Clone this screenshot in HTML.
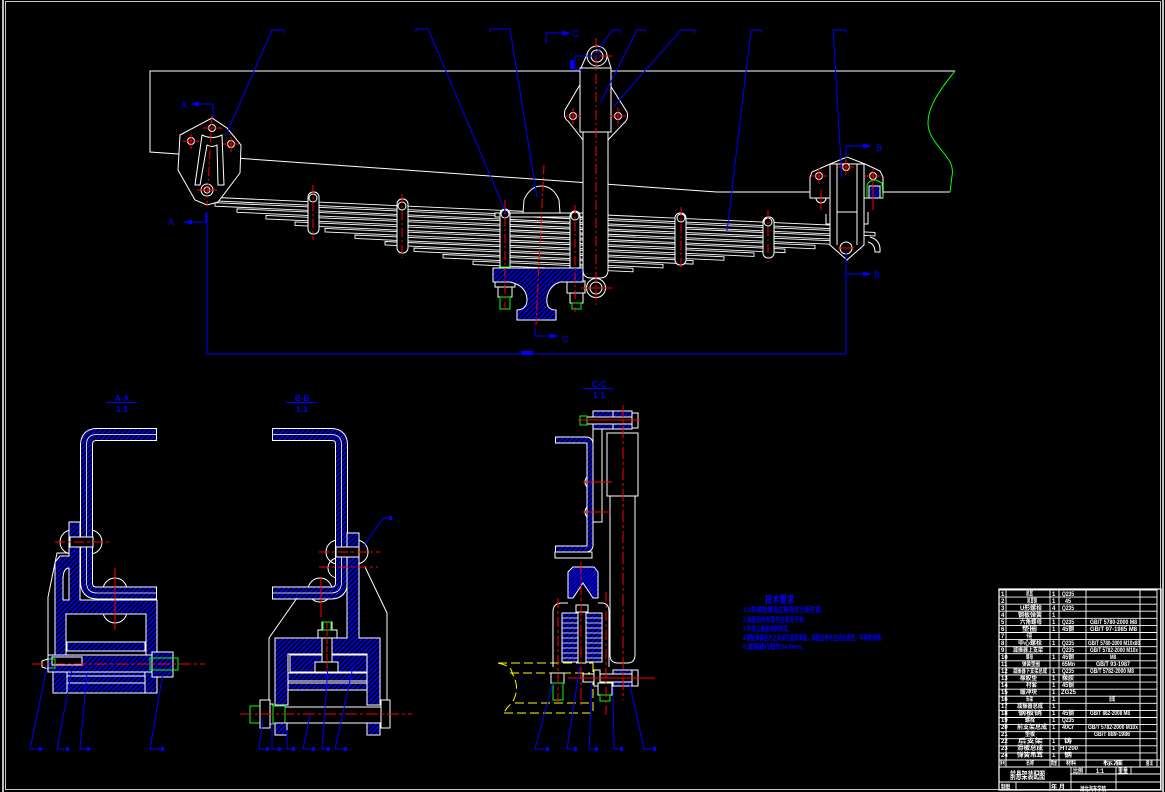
<!DOCTYPE html>
<html><head><meta charset="utf-8"><style>html,body{margin:0;padding:0;background:#000;}svg{display:block}</style></head><body>
<svg width="1165" height="792" viewBox="0 0 1165 792" xmlns="http://www.w3.org/2000/svg" font-family="'Liberation Sans','Noto Sans CJK SC',sans-serif">
<defs>
<pattern id="h" width="3.5" height="3.5" patternUnits="userSpaceOnUse" patternTransform="rotate(45)"><rect width="3.5" height="3.5" fill="#000"/><rect width="1.6" height="3.5" fill="#0000ff"/></pattern>
<pattern id="hx" width="3" height="3" patternUnits="userSpaceOnUse" patternTransform="rotate(45)"><rect width="3" height="3" fill="#0000ee"/><rect width="1" height="3" fill="#000"/></pattern>
</defs>
<rect width="1165" height="792" fill="#000"/>
<!-- drawing frame -->
<rect x="5.5" y="1.5" width="1155" height="788" fill="none" stroke="#c8c8c8"/>
<line x1="3" y1="0" x2="3" y2="792" stroke="#fff" stroke-width="1.5"/>
<line x1="1163" y1="0" x2="1163" y2="792" stroke="#fff" stroke-width="1.5"/>

<!-- ================= MAIN VIEW ================= -->
<polyline points="955,71 150,71 150,152 717,192 950,192" fill="none" stroke="#fff"/>
<path d="M955,71 C938,92 924,112 929,130 C934,148 956,158 952,176 L950,192" fill="none" stroke="#00ff00"/>

<!-- leaves -->
<g fill="#000" stroke="#fff" stroke-width="0.9">
<path d="M205,197 L830,225.1 L830,228.6 L205,200.5 Z"/>
<path d="M215,202.7 L875,232.4 L875,235.9 L215,206.2 Z"/>
<path d="M237,208.8 L845,236.2 L845,239.7 L237,212.3 Z"/>
<path d="M266,215.4 L830,240.7 L830,244.2 L266,218.9 Z"/>
<path d="M295,221.9 L815,245.3 L815,248.8 L295,225.4 Z"/>
<path d="M325,228.4 L785,249.1 L785,252.6 L325,231.9 Z"/>
<path d="M355,235 L754,252.9 L754,256.4 L355,238.5 Z"/>
<path d="M385,241.5 L724,256.8 L724,260.3 L385,245 Z"/>
<path d="M414,248 L693,260.6 L693,264.1 L414,251.5 Z"/>
<path d="M443,254.5 L663,264.4 L663,267.9 L443,258 Z"/>
<path d="M473,261.1 L633,268.3 L633,271.8 L473,264.6 Z"/>
</g>

<!-- front hanger -->
<polygon points="180,135 212,118 227,128 241,145 240,173 218,202 207,205 195,200 178,170" fill="#000" stroke="#fff"/>
<path d="M195,185 L202,135 Q212,140 222,135 L224,185 L218,185 L217,145 Q212,148 207,145 L200,185 Z" fill="none" stroke="#fff"/>
<circle cx="207" cy="190" r="6" fill="#000" stroke="#fff"/>
<circle cx="207" cy="190" r="3" fill="none" stroke="#fff"/>
<g fill="none" stroke="#fff"><circle cx="212" cy="128" r="3.5"/><circle cx="191" cy="141" r="3.5"/><circle cx="231" cy="144" r="3.5"/></g>
<g stroke="#ff0000" stroke-width="1">
<line x1="212" y1="116" x2="207" y2="206" stroke-dasharray="9 3 2 3"/>
<line x1="203" y1="128" x2="222" y2="128"/><line x1="183" y1="141" x2="199" y2="141"/><line x1="191" y1="134" x2="191" y2="149"/>
<line x1="223" y1="144" x2="239" y2="144"/><line x1="231" y1="137" x2="231" y2="152"/>
<line x1="197" y1="190" x2="217" y2="190"/>
</g>

<!-- clips and u-bolts -->
<g fill="#000" stroke="#fff">
<rect x="308" y="192" width="11" height="42" rx="5"/>
<rect x="397" y="199" width="11" height="54" rx="5"/>
<rect x="675" y="213" width="11" height="52" rx="5"/>
<rect x="763" y="217" width="11" height="41" rx="5"/>
<path d="M523,213 L524,200 C528,190 535,186 541,186 C550,186 556,192 559,200 L560,213 Z"/>
<rect x="495" y="213" width="88" height="4"/>
<rect x="500" y="209" width="10" height="66" rx="5"/>
<rect x="570" y="211" width="10" height="68" rx="5"/>
<rect x="495" y="275" width="20" height="12"/>
<rect x="567" y="281" width="18" height="12"/>
<rect x="498" y="287" width="14" height="10"/>
<rect x="570" y="293" width="13" height="10"/>
<circle cx="313" cy="198" r="4"/><circle cx="402" cy="206" r="4"/><circle cx="505" cy="214" r="4"/><circle cx="575" cy="216" r="4"/><circle cx="681" cy="218" r="4"/><circle cx="768" cy="222" r="4"/>
</g>
<g fill="none" stroke="#00ff00"><rect x="500" y="297" width="10" height="12"/><rect x="572" y="303" width="9" height="6"/><rect x="501" y="267" width="9" height="8"/></g>
<!-- axle seat -->
<path d="M493,268 L583,268 L583,282 L560,282 C550,285 546,295 547,303 C548,309 552,310 556,310 L556,320 L517,320 L517,310 C521,310 527,308 527,300 C527,290 520,284 510,282 L493,282 Z" fill="url(#h)" stroke="#fff"/>
<g stroke="#ff0000" stroke-dasharray="9 3 2 3">
<line x1="313" y1="185" x2="313" y2="240"/><line x1="402" y1="194" x2="402" y2="258"/>
<line x1="505" y1="200" x2="505" y2="310"/><line x1="575" y1="205" x2="575" y2="312"/>
<line x1="681" y1="207" x2="681" y2="270"/><line x1="768" y1="210" x2="768" y2="262"/>
<line x1="544" y1="165" x2="536" y2="325"/>
</g>

<!-- shock absorber -->
<g fill="none" stroke="#fff">
<path d="M581,83 L565,110 Q563,118 568,121 L583,140 M610,85 L627,112 Q629,119 624,123 L608,140"/>
<path d="M581,68 L588,52 M611,68 L606,52"/>
</g>
<g fill="#000" stroke="#fff">
<circle cx="597" cy="56" r="10"/><circle cx="597" cy="56" r="6"/>
<rect x="580" y="68" width="31" height="64"/>
<path d="M583,132 L583,270 Q583,278 591,278 L600,278 Q608,278 608,270 L608,132 Z"/>
<circle cx="596" cy="288" r="9.5"/><circle cx="596" cy="288" r="6"/>
<circle cx="573" cy="116" r="3.5"/><circle cx="618" cy="116" r="3.5"/>
</g>
<g stroke="#ff0000">
<line x1="596" y1="38" x2="596" y2="305" stroke-dasharray="10 3 2 3"/>
<line x1="584" y1="56" x2="612" y2="56"/><line x1="581" y1="288" x2="612" y2="288"/>
<line x1="565" y1="116" x2="581" y2="116"/><line x1="573" y1="108" x2="573" y2="124"/>
<line x1="610" y1="116" x2="626" y2="116"/><line x1="618" y1="108" x2="618" y2="124"/>
</g>

<!-- rear bracket -->
<g fill="#000" stroke="#fff">
<polygon points="810,198 810,177 812,172 830,164 847,157 865,164 880,171 883,177 883,198"/>
<polygon points="830,164 864,164 864,245 847,260 830,245"/>
<line x1="837" y1="164" x2="837" y2="245"/><line x1="857" y1="164" x2="857" y2="245"/>
<line x1="837" y1="212" x2="857" y2="212"/>
<path d="M826,214 L826,224 L830,224 M868,212 L868,224 L864,224" fill="none"/>
<path d="M870,237 Q881,240 880,252 L875,252 Q875,244 868,242" fill="none"/>
<circle cx="846" cy="248" r="6"/>
<circle cx="846" cy="167" r="3.5"/><circle cx="819" cy="176" r="3.5"/><circle cx="873" cy="176" r="3.5"/>
<path d="M816,198 A5,5 0 0 0 826,198" fill="none"/>
</g>
<rect x="869" y="186" width="11" height="12" fill="url(#h)" stroke="#fff"/>
<path d="M867,198 L867,185 Q869,180 876,180 L882,183 L883,198" fill="none" stroke="#00ff00"/>
<g stroke="#ff0000">
<line x1="838" y1="167" x2="854" y2="167"/><line x1="846" y1="159" x2="846" y2="175"/>
<line x1="811" y1="176" x2="827" y2="176"/><line x1="819" y1="168" x2="819" y2="184"/>
<line x1="865" y1="176" x2="881" y2="176"/><line x1="873" y1="168" x2="873" y2="210"/>
<line x1="821" y1="190" x2="821" y2="210"/>
<line x1="838" y1="248" x2="854" y2="248"/>
</g>

<!-- blue leaders & section marks (main) -->
<g stroke="#0000ff" fill="none">
<path d="M284,33 L284,30 L272,30 L226,135"/>
<path d="M416,32 L416,29 L428,29 L507,215"/>
<path d="M490,32 L490,29 L510,29 L537,197"/>
<path d="M620,33 L620,30 L612,30 L597,53"/>
<path d="M645,33 L645,30 L637,30 L600,103"/>
<path d="M695,33 L695,30 L681,30 L614,106"/>
<path d="M762,33 L762,30 L751,30 L727,231"/>
<path d="M846,33 L846,30 L833,30 L842,178"/>
<polyline points="213,117 213,104 196,104"/>
<polyline points="206,212 206,222 188,222"/>
<polyline points="846,158 846,146 866,146"/>
<polyline points="846,274 866,274"/>
<polyline points="546,43 546,33 566,33"/>
<polyline points="535,327 535,336 554,336"/>
<polyline points="207,213 207,354 846,354 846,252"/>
<path d="M600,56 L575,56 L575,70 L583,70"/>
</g>
<g fill="#0000ff">
<polygon points="190,104 199,101.5 199,106.5"/>
<polygon points="183,222 192,219.5 192,224.5"/>
<polygon points="872,146 863,143.5 863,148.5"/>
<polygon points="872,274 863,271.5 863,276.5"/>
<polygon points="571,33 562,30.5 562,35.5"/>
<polygon points="559,336 550,333.5 550,338.5"/>
<rect x="521" y="351" width="12" height="4"/>
<rect x="570" y="60" width="4" height="9"/>
</g>
<g fill="#0000ff" font-size="9">
<text x="181" y="108">A</text><text x="168" y="225">A</text>
<text x="876" y="151">B</text><text x="874" y="278">B</text>
<text x="572" y="37">C</text><text x="562" y="342">C</text>
</g>

<!-- ================= A-A ================= -->
<g fill="#0000ff" font-size="8" font-weight="bold" text-anchor="middle">
<text x="122" y="401">A-A</text><text x="122" y="412">1:1</text>
<text x="302" y="401">B-B</text><text x="302" y="412">1:1</text>
<text x="599" y="387">C-C</text><text x="599" y="398">1:1</text>
</g>
<g stroke="#0000ff"><line x1="106" y1="402.5" x2="137" y2="402.5"/><line x1="286" y1="402.5" x2="317" y2="402.5"/><line x1="583" y1="388.5" x2="613" y2="388.5"/></g>

<g fill="none" stroke="#fff">
<circle cx="72" cy="542" r="12"/><circle cx="90" cy="542" r="12"/>
<circle cx="115" cy="590" r="12"/><circle cx="115" cy="611" r="12"/>
</g>
<path d="M69,522 L80,522 L80,600 L157,600 L157,655 L146,655 L146,614 L66,614 L66,655 L55,655 L55,562 L60,556 L69,556 Z" fill="url(#h)" stroke="#fff"/>
<path d="M69,568 Q63,568 63,580 L63,600 L69,600 Z" fill="#000" stroke="#fff"/>
<path d="M157,434.5 L97,434.5 Q86.5,434.5 86.5,445 L86.5,582 Q86.5,593 97,593 L157,593" fill="none" stroke="#fff" stroke-width="13"/>
<path d="M156,434.5 L97,434.5 Q86.5,434.5 86.5,445 L86.5,582 Q86.5,593 97,593 L156,593" fill="none" stroke="url(#h)" stroke-width="11"/>
<path d="M156,434.5 L97,434.5 Q86.5,434.5 86.5,445 L86.5,582 Q86.5,593 97,593 L156,593" fill="none" stroke="#fff" stroke-width="0.8"/>
<rect x="70" y="537" width="23" height="10" fill="#000" stroke="#fff"/>
<path d="M48,655 L48,597 L57,553 L69,553" fill="none" stroke="#fff"/>
<rect x="67" y="642" width="78" height="9" fill="url(#h)" stroke="#fff"/>
<rect x="48" y="655" width="105" height="17" fill="url(#h)" stroke="#fff"/>
<rect x="52" y="657" width="30" height="8" fill="#000" stroke="#fff"/>
<rect x="53" y="672" width="104" height="21" fill="url(#h)" stroke="#fff"/>
<g stroke="#fff"><line x1="67" y1="672" x2="67" y2="693"/><line x1="145" y1="672" x2="145" y2="693"/><line x1="67" y1="683" x2="145" y2="683"/><line x1="67" y1="676" x2="145" y2="676"/></g>
<rect x="152" y="652" width="21" height="25" fill="url(#h)" stroke="#fff"/>
<rect x="150" y="658" width="28" height="12" fill="none" stroke="#00ff00"/>
<rect x="47" y="659" width="8" height="9" fill="none" stroke="#00ff00"/>
<polygon points="42,661 48,659 48,669 42,667" fill="#000" stroke="#fff"/>
<g stroke="#ff0000">
<line x1="32" y1="664" x2="205" y2="664" stroke-dasharray="12 3 3 3"/>
<line x1="55" y1="542" x2="110" y2="542" stroke-dasharray="10 3 3 3"/>
<line x1="115" y1="568" x2="115" y2="630"/>
</g>
<g stroke="#0000ff" fill="none">
<path d="M40,749 L30,749 L47,667"/><path d="M67,749 L57,749 L72,670"/><path d="M88,749 L80,749 L87,673"/><path d="M162,749 L150,749 L163,673"/>
</g>
<g fill="#0000ff"><rect x="39" y="747" width="3" height="4"/><rect x="66" y="747" width="3" height="4"/><rect x="87" y="747" width="3" height="4"/><rect x="161" y="747" width="3" height="4"/></g>

<!-- ================= B-B ================= -->
<g fill="none" stroke="#fff">
<circle cx="338" cy="552" r="12"/><circle cx="338" cy="568" r="10"/><circle cx="356" cy="552" r="12"/>
<circle cx="320" cy="590" r="12"/>
</g>
<path d="M272,434.5 L331,434.5 Q341.5,434.5 341.5,445 L341.5,582 Q341.5,593 331,593 L272,593" fill="none" stroke="#fff" stroke-width="13"/>
<path d="M273,434.5 L331,434.5 Q341.5,434.5 341.5,445 L341.5,582 Q341.5,593 331,593 L273,593" fill="none" stroke="url(#h)" stroke-width="11"/>
<path d="M273,434.5 L331,434.5 Q341.5,434.5 341.5,445 L341.5,582 Q341.5,593 331,593 L273,593" fill="none" stroke="#fff" stroke-width="0.8"/>
<path d="M347,533 L359,533 L359,638 L380,638 L380,705 L367,705 L367,654 L288,654 L288,705 L275,705 L275,638 L347,638 Z" fill="url(#h)" stroke="#fff"/>
<rect x="336" y="547" width="23" height="10" fill="#000" stroke="#fff"/>
<path d="M269,702 L269,638 L297,598 M365,567 L387,613 L387,700" fill="none" stroke="#fff"/>
<rect x="290" y="655" width="77" height="17" fill="url(#h)" stroke="#fff"/>
<rect x="288" y="673" width="79" height="8" fill="url(#h)" stroke="#fff"/>
<rect x="288" y="683" width="79" height="7" fill="url(#h)" stroke="#fff"/>
<rect x="315" y="662" width="23" height="10" fill="#000" stroke="#fff"/>
<rect x="322" y="622" width="10" height="40" fill="#000" stroke="#fff"/>
<rect x="318" y="630" width="19" height="8" fill="#000" stroke="#fff"/>
<rect x="323" y="622" width="8" height="8" fill="none" stroke="#00ff00"/>
<rect x="283" y="707" width="104" height="16" fill="#000" stroke="#fff"/>
<rect x="250" y="706" width="10" height="17" fill="none" stroke="#00ff00"/>
<rect x="260" y="700" width="10" height="28" fill="#000" stroke="#fff"/>
<rect x="270" y="704" width="3" height="20" fill="#000" stroke="#fff"/>
<rect x="273" y="706" width="12" height="17" fill="#000" stroke="#00ff00"/>
<rect x="381" y="700" width="9" height="28" fill="#000" stroke="#fff"/>
<rect x="275" y="723" width="12" height="12" fill="url(#h)" stroke="#fff"/>
<rect x="367" y="723" width="13" height="12" fill="url(#h)" stroke="#fff"/>
<g stroke="#ff0000">
<line x1="240" y1="714" x2="412" y2="714" stroke-dasharray="12 3 3 3"/>
<line x1="319" y1="552" x2="380" y2="552" stroke-dasharray="10 3 3 3"/>
<line x1="319" y1="567" x2="378" y2="567" stroke-dasharray="10 3 3 3"/>
<line x1="321" y1="577" x2="321" y2="617"/>
<line x1="327" y1="622" x2="327" y2="672" stroke-dasharray="6 2"/>
</g>
<g stroke="#0000ff" fill="none">
<path d="M267,749 L259,749 L263,717"/><path d="M279,749 L272,749 L272,723"/><path d="M293,749 L287,749 L287,730"/>
<path d="M313,749 L303,749 L310,715"/><path d="M328,749 L322,749 L328,667"/><path d="M345,749 L335,749 L353,667"/>
<path d="M363,547 L383,518 L390,518"/>
</g>
<g fill="#0000ff"><rect x="266" y="747" width="3" height="4"/><rect x="278" y="747" width="3" height="4"/><rect x="292" y="747" width="3" height="4"/><rect x="312" y="747" width="3" height="4"/><rect x="327" y="747" width="3" height="4"/><rect x="344" y="747" width="3" height="4"/><rect x="389" y="516" width="3" height="4"/></g>

<!-- ================= C-C ================= -->
<g fill="none" stroke="#fff"><circle cx="592" cy="482" r="7"/><circle cx="592" cy="512" r="7"/></g>
<path d="M555,440 L586,440 Q590,440 590,444 L590,545 Q590,549 586,549 L555,549" fill="none" stroke="#fff" stroke-width="7"/>
<path d="M556,440 L586,440 Q590,440 590,444 L590,545 Q590,549 586,549 L556,549" fill="none" stroke="url(#h)" stroke-width="5"/>
<rect x="555" y="552" width="37" height="6" fill="none" stroke="#fff"/>
<rect x="593" y="428" width="9" height="94" fill="#000" stroke="#fff"/>
<rect x="593" y="411" width="20" height="18" fill="url(#h)" stroke="#fff"/>
<rect x="613" y="411" width="19" height="18" fill="url(#h)" stroke="#fff"/>
<rect x="587" y="417" width="46" height="7" fill="#000" stroke="#fff"/>
<rect x="580" y="416" width="7" height="9" fill="none" stroke="#00ff00"/>
<rect x="632" y="413" width="6" height="15" fill="#000" stroke="#fff"/>
<rect x="607" y="433" width="31" height="63" fill="#000" stroke="#fff"/>
<path d="M610,496 L610,655 Q610,663 618,663 L627,663 Q635,663 635,655 L635,496 Z" fill="#000" stroke="#fff"/>
<!-- yellow axle -->
<g stroke="#ffff00" stroke-dasharray="9 4" fill="none">
<path d="M498,663 L593,663"/><path d="M510,673 L590,673"/><path d="M515,703 L592,703"/>
<path d="M504,713 L593,713 L593,663"/>
<path d="M498,663 Q512,666 512,673 Q521,688 512,703 Q506,708 504,713"/>
</g>
<!-- seat -->
<path d="M553,667 L553,612 Q553,603 562,603 L568,603 M598,603 L602,603 Q609,603 609,612 L609,667" fill="none" stroke="#fff"/>
<rect x="562" y="613" width="40" height="49" fill="url(#h)" stroke="#fff"/>
<g stroke="#fff" stroke-width="0.8"><line x1="562" y1="618" x2="602" y2="618"/><line x1="562" y1="623" x2="602" y2="623"/><line x1="562" y1="628" x2="602" y2="628"/><line x1="562" y1="633" x2="602" y2="633"/><line x1="562" y1="638" x2="602" y2="638"/><line x1="562" y1="643" x2="602" y2="643"/><line x1="562" y1="648" x2="602" y2="648"/><line x1="562" y1="653" x2="602" y2="653"/><line x1="562" y1="658" x2="602" y2="658"/></g>
<rect x="578" y="611" width="8" height="52" fill="#000" stroke="#fff"/>
<rect x="576" y="605" width="12" height="7" fill="#000" stroke="#fff"/>
<path d="M568,598 L568,572 L573,567 L594,567 L598,572 L598,598 L593,598 L583,583 L573,598 Z" fill="url(#hx)" stroke="#fff"/>
<!-- lower eye / bolts -->
<rect x="613" y="670" width="19" height="16" fill="url(#h)" stroke="#fff"/>
<rect x="583" y="674" width="54" height="8" fill="#000" stroke="#fff"/>
<rect x="594" y="670" width="6" height="16" fill="#000" stroke="#fff"/>
<rect x="632" y="670" width="6" height="16" fill="#000" stroke="#fff"/>
<rect x="551" y="673" width="13" height="10" fill="#000" stroke="#fff"/>
<rect x="553" y="683" width="10" height="17" fill="none" stroke="#00ff00"/>
<rect x="598" y="683" width="14" height="12" fill="#000" stroke="#fff"/>
<rect x="600" y="695" width="10" height="6" fill="none" stroke="#00ff00"/>
<g stroke="#ff0000">
<line x1="578" y1="420" x2="640" y2="420"/>
<line x1="623" y1="405" x2="623" y2="700" stroke-dasharray="12 3 3 3"/>
<line x1="583" y1="482" x2="612" y2="482"/><line x1="583" y1="512" x2="610" y2="512"/>
<line x1="581" y1="562" x2="581" y2="705" stroke-dasharray="12 3 3 3"/>
<line x1="558" y1="598" x2="558" y2="705" stroke-dasharray="10 3 3 3"/>
<line x1="606" y1="592" x2="606" y2="715" stroke-dasharray="10 3 3 3"/>
<line x1="568" y1="678" x2="655" y2="678"/>
</g>
<g stroke="#0000ff" fill="none">
<path d="M547,749 L535,749 L553,683"/><path d="M575,749 L567,749 L580,665"/><path d="M596,749 L589,749 L592,682"/>
<path d="M621,749 L614,749 L613,687"/><path d="M654,749 L644,749 L630,685"/>
</g>
<g fill="#0000ff"><rect x="546" y="747" width="3" height="4"/><rect x="574" y="747" width="3" height="4"/><rect x="595" y="747" width="3" height="4"/><rect x="620" y="747" width="3" height="4"/><rect x="653" y="747" width="3" height="4"/></g>

<!-- ================= TECH NOTES ================= -->
<g fill="#0000ff" font-weight="bold">
<text x="765" y="603" font-size="10" textLength="29" lengthAdjust="spacingAndGlyphs">技术要求</text>
<text x="743" y="612" font-size="7" textLength="83" lengthAdjust="spacingAndGlyphs">1.U形螺栓螺母应按规定力矩拧紧。</text>
<text x="743" y="622" font-size="7" textLength="65" lengthAdjust="spacingAndGlyphs">2.装配前所有零件应清洗干净。</text>
<text x="743" y="631" font-size="7" textLength="49" lengthAdjust="spacingAndGlyphs">3.不加工表面涂防锈漆。</text>
<text x="743" y="640" font-size="7" textLength="142" lengthAdjust="spacingAndGlyphs">4.钢板弹簧各片之间涂石墨润滑脂，装配后各片应贴合紧密，不得有间隙。</text>
<text x="743" y="649" font-size="7" textLength="64" lengthAdjust="spacingAndGlyphs">5.减振器行程为54.3mm。</text>
</g>

<!-- ================= TITLE BLOCK ================= -->
<g stroke="#fff" fill="none" stroke-width="0.9">
<rect x="999" y="589" width="162" height="201" stroke-width="1.2"/>
<line x1="999" y1="597.1" x2="1157" y2="597.1"/><line x1="999" y1="604.2" x2="1157" y2="604.2"/><line x1="999" y1="611.2" x2="1157" y2="611.2"/><line x1="999" y1="618.3" x2="1157" y2="618.3"/>
<line x1="999" y1="625.4" x2="1157" y2="625.4"/><line x1="999" y1="632.5" x2="1157" y2="632.5"/><line x1="999" y1="639.6" x2="1157" y2="639.6"/><line x1="999" y1="646.7" x2="1157" y2="646.7"/>
<line x1="999" y1="653.7" x2="1157" y2="653.7"/><line x1="999" y1="660.8" x2="1157" y2="660.8"/><line x1="999" y1="667.9" x2="1157" y2="667.9"/><line x1="999" y1="675" x2="1157" y2="675"/>
<line x1="999" y1="682.1" x2="1157" y2="682.1"/><line x1="999" y1="689.2" x2="1157" y2="689.2"/><line x1="999" y1="696.2" x2="1157" y2="696.2"/><line x1="999" y1="703.3" x2="1157" y2="703.3"/>
<line x1="999" y1="710.4" x2="1157" y2="710.4"/><line x1="999" y1="717.5" x2="1157" y2="717.5"/><line x1="999" y1="724.6" x2="1157" y2="724.6"/><line x1="999" y1="731.7" x2="1157" y2="731.7"/>
<line x1="999" y1="738.7" x2="1157" y2="738.7"/><line x1="999" y1="745.8" x2="1157" y2="745.8"/><line x1="999" y1="752.9" x2="1157" y2="752.9"/>
<line x1="999" y1="590" x2="1157" y2="590"/>
<line x1="999" y1="760" x2="1161" y2="760"/><line x1="999" y1="767" x2="1161" y2="767"/>
<line x1="1070" y1="774" x2="1161" y2="774"/><line x1="999" y1="782" x2="1161" y2="782"/>
<line x1="1006" y1="590" x2="1006" y2="767"/><line x1="1050" y1="590" x2="1050" y2="767"/><line x1="1059" y1="590" x2="1059" y2="767"/>
<line x1="1086" y1="590" x2="1086" y2="767"/><line x1="1140" y1="590" x2="1140" y2="767"/><line x1="1157" y1="589" x2="1157" y2="767"/>
<line x1="1071" y1="767" x2="1071" y2="790"/><line x1="1086" y1="767" x2="1086" y2="774"/><line x1="1116" y1="767" x2="1116" y2="790"/><line x1="1131" y1="767" x2="1131" y2="774"/>
<line x1="1016" y1="782" x2="1016" y2="790"/><line x1="1050" y1="782" x2="1050" y2="790"/>
</g>
<g fill="#fff" font-size="6" font-weight="bold">
<text x="1001" y="596">1</text><text x="1026" y="596" textLength="7" lengthAdjust="spacingAndGlyphs">吊耳</text><text x="1052" y="596">1</text><text x="1062" y="596" textLength="12" lengthAdjust="spacingAndGlyphs">Q235</text>
<text x="1001" y="603">2</text><text x="1027" y="603" textLength="10" lengthAdjust="spacingAndGlyphs">吊耳销</text><text x="1052" y="603">1</text><text x="1065" y="603" textLength="6" lengthAdjust="spacingAndGlyphs">45</text>
<text x="1001" y="610">3</text><text x="1020" y="610" textLength="22" lengthAdjust="spacingAndGlyphs">U形螺栓</text><text x="1052" y="610">4</text><text x="1062" y="610" textLength="12" lengthAdjust="spacingAndGlyphs">Q235</text>
<text x="1001" y="617">4</text><text x="1018" y="617" textLength="24" lengthAdjust="spacingAndGlyphs">钢板弹簧</text><text x="1052" y="617">1</text>
<text x="1001" y="624">5</text><text x="1020" y="624" textLength="22" lengthAdjust="spacingAndGlyphs">六角螺母</text><text x="1052" y="624">1</text><text x="1062" y="624" textLength="12" lengthAdjust="spacingAndGlyphs">Q235</text><text x="1090" y="624" textLength="47" lengthAdjust="spacingAndGlyphs">GB/T 5780-2000 M8</text>
<text x="1001" y="631">6</text><text x="1022" y="631" textLength="15" lengthAdjust="spacingAndGlyphs">垫圈</text><text x="1052" y="631">1</text><text x="1062" y="631" textLength="12" lengthAdjust="spacingAndGlyphs">45钢</text><text x="1090" y="631" textLength="47" lengthAdjust="spacingAndGlyphs">GB/T 97-1985 M8</text>
<text x="1001" y="638">7</text><text x="1026" y="638" textLength="6" lengthAdjust="spacingAndGlyphs">卡箍</text>
<text x="1001" y="645">8</text><text x="1018" y="645" textLength="24" lengthAdjust="spacingAndGlyphs">中心螺栓</text><text x="1052" y="645">1</text><text x="1062" y="645" textLength="12" lengthAdjust="spacingAndGlyphs">Q235</text><text x="1088" y="645" textLength="52" lengthAdjust="spacingAndGlyphs">GB/T 5780-2000 M10x80</text>
<text x="1001" y="652">9</text><text x="1013" y="652" textLength="30" lengthAdjust="spacingAndGlyphs">减振器上支架</text><text x="1062" y="652" textLength="12" lengthAdjust="spacingAndGlyphs">Q235</text><text x="1090" y="652" textLength="48" lengthAdjust="spacingAndGlyphs">GB/T 5782-2000 M10x</text>
<text x="1001" y="659">10</text><text x="1026" y="659" textLength="7" lengthAdjust="spacingAndGlyphs">螺母</text><text x="1052" y="659">1</text><text x="1062" y="659" textLength="12" lengthAdjust="spacingAndGlyphs">45钢</text><text x="1110" y="659" textLength="6" lengthAdjust="spacingAndGlyphs">M8</text>
<text x="1001" y="666">11</text><text x="1022" y="666" textLength="18" lengthAdjust="spacingAndGlyphs">弹簧垫圈</text><text x="1062" y="666" textLength="13" lengthAdjust="spacingAndGlyphs">65Mn</text><text x="1096" y="666" textLength="34" lengthAdjust="spacingAndGlyphs">GB/T 93-1987</text>
<text x="1001" y="673">12</text><text x="1013" y="673" textLength="34" lengthAdjust="spacingAndGlyphs">减振器下支架总成</text><text x="1052" y="673">1</text><text x="1062" y="673" textLength="12" lengthAdjust="spacingAndGlyphs">Q235</text><text x="1090" y="673" textLength="44" lengthAdjust="spacingAndGlyphs">GB/T 5782-2000 M8</text>
<text x="1001" y="680">13</text><text x="1020" y="680" textLength="17" lengthAdjust="spacingAndGlyphs">橡胶垫</text><text x="1052" y="680">1</text><text x="1062" y="680" textLength="12" lengthAdjust="spacingAndGlyphs">橡胶</text>
<text x="1001" y="687">14</text><text x="1026" y="687" textLength="11" lengthAdjust="spacingAndGlyphs">衬套</text><text x="1052" y="687">1</text><text x="1062" y="687" textLength="12" lengthAdjust="spacingAndGlyphs">45钢</text>
<text x="1001" y="694">15</text><text x="1020" y="694" textLength="17" lengthAdjust="spacingAndGlyphs">缓冲块</text><text x="1052" y="694">1</text><text x="1061" y="694" textLength="15" lengthAdjust="spacingAndGlyphs">ZG25</text>
<text x="1001" y="701">16</text><text x="1026" y="701" textLength="7" lengthAdjust="spacingAndGlyphs">车架</text><text x="1052" y="701">1</text><text x="1109" y="701" textLength="6" lengthAdjust="spacingAndGlyphs">总成</text>
<text x="1001" y="708">17</text><text x="1017" y="708" textLength="26" lengthAdjust="spacingAndGlyphs">减振器总成</text><text x="1052" y="708">1</text>
<text x="1001" y="715">18</text><text x="1018" y="715" textLength="24" lengthAdjust="spacingAndGlyphs">钢板销</text><text x="1052" y="715">1</text><text x="1062" y="715" textLength="12" lengthAdjust="spacingAndGlyphs">45钢</text><text x="1090" y="715" textLength="40" lengthAdjust="spacingAndGlyphs">GB/T 882-2008 M8</text>
<text x="1001" y="722">19</text><text x="1025" y="722" textLength="10" lengthAdjust="spacingAndGlyphs">螺栓</text><text x="1052" y="722">1</text><text x="1062" y="722" textLength="12" lengthAdjust="spacingAndGlyphs">Q235</text>
<text x="1001" y="729">20</text><text x="1017" y="729" textLength="30" lengthAdjust="spacingAndGlyphs">前支架总成</text><text x="1052" y="729">1</text><text x="1062" y="729" textLength="12" lengthAdjust="spacingAndGlyphs">40Cr</text><text x="1088" y="729" textLength="50" lengthAdjust="spacingAndGlyphs">GB/T 5782-2000 M10x</text>
<text x="1001" y="736">21</text><text x="1025" y="736" textLength="10" lengthAdjust="spacingAndGlyphs">垫板</text><text x="1094" y="736" textLength="36" lengthAdjust="spacingAndGlyphs">GB/T 889-1986</text>
<text x="1001" y="743">22</text><text x="1018" y="743" textLength="25" lengthAdjust="spacingAndGlyphs">后支架</text><text x="1052" y="743">1</text><text x="1064" y="743" textLength="8" lengthAdjust="spacingAndGlyphs">铸</text>
<text x="1001" y="750">23</text><text x="1017" y="750" textLength="26" lengthAdjust="spacingAndGlyphs">滑板总成</text><text x="1052" y="750">1</text><text x="1060" y="750" textLength="18" lengthAdjust="spacingAndGlyphs">HT200</text>
<text x="1001" y="757">24</text><text x="1017" y="757" textLength="26" lengthAdjust="spacingAndGlyphs">弹簧吊耳</text><text x="1052" y="757">1</text><text x="1064" y="757" textLength="8" lengthAdjust="spacingAndGlyphs">钢</text>
<text x="1000" y="765" textLength="5" lengthAdjust="spacingAndGlyphs">序号</text><text x="1026" y="765" textLength="8" lengthAdjust="spacingAndGlyphs">名称</text><text x="1051" y="765" textLength="6" lengthAdjust="spacingAndGlyphs">数量</text><text x="1066" y="765" textLength="10" lengthAdjust="spacingAndGlyphs">材料</text><text x="1103" y="765" textLength="20" lengthAdjust="spacingAndGlyphs">标准</text><text x="1146" y="765" textLength="7" lengthAdjust="spacingAndGlyphs">备注</text>
<text x="1073" y="773" textLength="10" lengthAdjust="spacingAndGlyphs">比例</text><text x="1096" y="773" textLength="8" lengthAdjust="spacingAndGlyphs">1:1</text><text x="1118" y="773" textLength="10" lengthAdjust="spacingAndGlyphs">重量</text>
<text x="1001" y="789" textLength="9" lengthAdjust="spacingAndGlyphs">制图</text><text x="1051" y="789" textLength="14" lengthAdjust="spacingAndGlyphs">年 月</text><text x="1080" y="791" textLength="26" lengthAdjust="spacingAndGlyphs">湖北汽车学院</text>
</g>
<text x="1010" y="779" fill="#fff" font-size="10" font-weight="bold" textLength="35" lengthAdjust="spacingAndGlyphs">前悬架装配图</text>
</svg>
</body></html>
